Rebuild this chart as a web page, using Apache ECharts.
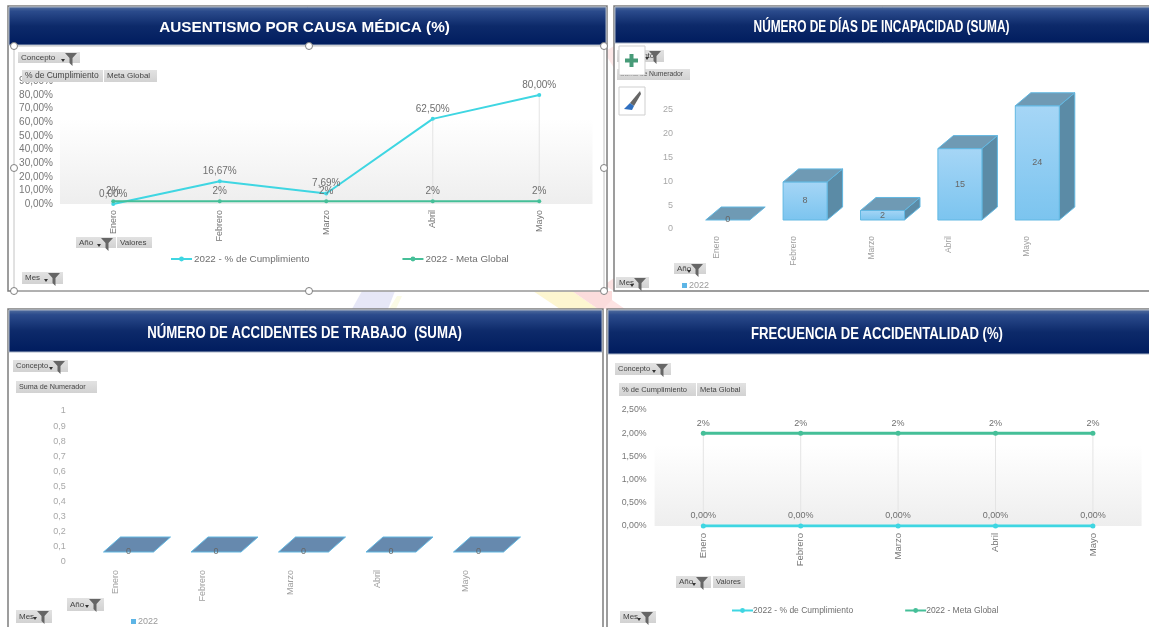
<!DOCTYPE html>
<html><head><meta charset="utf-8">
<style>html,body{margin:0;padding:0;background:#fff}#c{width:1149px;height:627px}</style>
<script src="https://cdn.jsdelivr.net/npm/echarts@6/dist/echarts.min.js"></script>
</head><body><div id="c"></div>
<script>
const months = ['Enero','Febrero','Marzo','Abril','Mayo'];
const ausCumplimiento = [0, 16.67, 7.69, 62.5, 80];
const ausMeta = [2, 2, 2, 2, 2];
const diasIncapacidad = [0, 8, 2, 15, 24];
const accidentes = [0, 0, 0, 0, 0];
const freCumplimiento = [0, 0, 0, 0, 0];
const freMeta = [2, 2, 2, 2, 2];
const titles = ['AUSENTISMO POR CAUSA MÉDICA (%)','NÚMERO DE DÍAS DE INCAPACIDAD (SUMA)','NÚMERO DE ACCIDENTES DE TRABAJO  (SUMA)','FRECUENCIA DE ACCIDENTALIDAD (%)'];
const nameCumpl = '2022 - % de Cumplimiento', nameMeta = '2022 - Meta Global', nameYear = '2022';

const CY = '#3fd6e2', GR = '#45bf98', TXT = '#777', FONT = '"Liberation Sans", Arial, sans-serif';
const LG = (stops) => new echarts.graphic.LinearGradient(0,0,0,1,stops);
const plotBg = () => LG([{offset:0,color:'#fff'},{offset:.3,color:'#fff'},{offset:1,color:'#eeeeee'}]);
const pct2 = v => v.toFixed(2).replace('.',',') + '%';

/* --- decoration: page shapes, panels, headers, pivot buttons --- */
const g = [];
function poly(points, fill){ g.push({type:'polygon', z:-30, shape:{points}, style:{fill}}); }
poly([[352,309],[362,291],[395,291],[388,309]], '#e6e7f7');
poly([[389,309],[397,296],[402,296],[396,309]], '#fbfbe6');
poly([[533,291],[572,291],[598,309],[560,309]], '#fdf6d0');
poly([[572,291],[612,291],[612,309],[598,309]], '#fbdcdc');
poly([[603,309],[612,300],[625,309]], '#fde3e3');
poly([[604,52],[614,46],[614,68]], '#fde9e9');
poly([[604,285],[614,278],[614,291]], '#fde3e3');

function panel(x,y,w,h,hh,title,size,sx,tx){
  g.push({type:'rect', z:-20, shape:{x,y,width:w,height:h}, style:{fill:'#fff',stroke:'#7d7d7d',lineWidth:1.5}});
  g.push({type:'rect', z:-19, shape:{x:x+1,y:y+1,width:w-2,height:hh}, style:{
    fill:LG([{offset:0,color:'#54709f'},{offset:.12,color:'#2b4b8c'},{offset:.5,color:'#0d2a6a'},{offset:1,color:'#001c5e'}]),
    stroke:'#a9b4c6',lineWidth:1}});
  g.push({type:'text', z:-18, x:tx, y:y+3+hh/2, scaleX:sx, style:{x:0,y:0,text:title,fill:'#fff',font:'bold '+size+'px '+FONT,align:'center',verticalAlign:'middle'}});
}
panel(8,6,599,285,38,titles[0],15,1.02,304.5);
panel(614,6,540,285,36,titles[1],16.5,0.72,881.5);
panel(8,309,595,325,42,titles[2],16.5,0.8,304.5);
panel(607,309,550,325,44,titles[3],16.5,0.795,877);

function btn(x0,x1,y0,y1,label,funnel,size){
  g.push({type:'rect', z:20, shape:{x:x0,y:y0,width:x1-x0,height:y1-y0}, style:{fill:LG([{offset:0,color:'#e2e2e2'},{offset:1,color:'#d2d2d2'}])}});
  g.push({type:'text', z:21, style:{x:x0+3,y:(y0+y1)/2,text:label,fill:'#444',font:(size||8)+'px '+FONT,verticalAlign:'middle'}});
  if(funnel){
    const fx=x1-15, fy=y0+1;
    g.push({type:'polygon', z:21, shape:{points:[[fx,fy],[fx+12,fy],[fx+7.5,fy+5],[fx+7.5,fy+13],[fx+4.5,fy+10],[fx+4.5,fy+5]]}, style:{fill:'#666'}});
    g.push({type:'polygon', z:21, shape:{points:[[fx-4,fy+6],[fx,fy+6],[fx-2,fy+9]]}, style:{fill:'#333'}});
  }
}
// panel 1
btn(18,80,52,63,'Concepto',1); btn(22,103,70,82,'% de Cumplimiento',0,8.5); btn(104,157,70,82,'Meta Global');
btn(76,116,237,248,'Año',1); btn(117,152,237,248,'Valores'); btn(22,63,272,284,'Mes',1);
// panel 2
btn(617,664,50,62,'Concepto',1); btn(617,690,69,80,'Suma de Numerador',0,6.8);
btn(674,706,263,274,'Año',1); btn(616,649,277,288,'Mes',1);
// panel 3
btn(13,68,360,372,'Concepto',1,7.5); btn(16,97,381,393,'Suma de Numerador',0,7.2);
btn(67,104,598,611,'Año',1); btn(16,52,610,623,'Mes',1);
// panel 4
btn(615,671,363,375,'Concepto',1,7.5); btn(619,696,383,396,'% de Cumplimiento',0,7.5); btn(697,746,383,396,'Meta Global',0,7.5);
btn(676,711,576,588,'Año',1); btn(713,745,576,588,'Valores',0,7.5); btn(620,656,611,623,'Mes',1);

// selection frame + handles, panel 1
g.push({type:'rect', z:-10, shape:{x:14,y:46,width:590,height:245}, style:{fill:'none',stroke:'#c4c4c4',lineWidth:1}});
[[14,46],[309,46],[604,46],[14,168],[604,168],[14,291],[309,291],[604,291]].forEach(p=>{
  g.push({type:'circle', z:30, shape:{cx:p[0],cy:p[1],r:3.5}, style:{fill:'#fff',stroke:'#808080',lineWidth:1}});
});
// Excel side buttons
g.push({type:'rect', z:30, shape:{x:619,y:46,width:26,height:29}, style:{fill:'#fff',stroke:'#cfcfcf',lineWidth:1}});
g.push({type:'rect', z:31, shape:{x:625,y:58.5,width:13,height:4}, style:{fill:'#479b78'}});
g.push({type:'rect', z:31, shape:{x:629.5,y:54,width:4,height:13}, style:{fill:'#479b78'}});
g.push({type:'rect', z:30, shape:{x:619,y:87,width:26,height:28}, style:{fill:'#fff',stroke:'#cfcfcf',lineWidth:1}});
g.push({type:'polygon', z:31, shape:{points:[[640,91],[641,94],[634,106],[630,103]]}, style:{fill:'#666'}});
g.push({type:'polygon', z:31, shape:{points:[[630,103],[634,106],[632,110],[624,109]]}, style:{fill:'#2f6fc0'}});

/* --- helpers for series --- */
function cat(gridIndex, margin, color, size){
  return {type:'category', gridIndex, data:months, boundaryGap:true,
    axisLine:{show:false}, axisTick:{show:false}, splitLine:{show:false},
    axisLabel:{rotate:90, interval:0, margin, color, fontSize:size, fontFamily:FONT, hideOverlap:false}};
}
function val(gridIndex, min, max, interval, margin, fmt, color, size){
  return {type:'value', gridIndex, min, max, interval,
    axisLine:{show:false}, axisTick:{show:false}, splitLine:{show:false},
    axisLabel:{margin, color, fontSize:size, fontFamily:FONT, formatter:fmt, showMinLabel:true, showMaxLabel:true}};
}
function drop(idx, a, b){ // faint vertical drop line at each month
  return {type:'bar', name:'drop', xAxisIndex:idx, yAxisIndex:idx, barWidth:1, silent:true, z:1,
    itemStyle:{color:'#e4e4e4'}, data:a.map((v,i)=>Math.max(v,b[i]))};
}
function line(idx, name, data, color, width, fmt, size){
  return {type:'line', name, xAxisIndex:idx, yAxisIndex:idx, data, smooth:false, symbol:'circle', symbolSize:width>2?5:4,
    lineStyle:{color,width}, itemStyle:{color}, z:3,
    label:{show:true, position:'top', distance:3, color:'#6f6f6f', fontSize:size, fontFamily:FONT, formatter:p=>fmt(p.value)}};
}
function bar3d(idx, data, o){
  return {type:'custom', name:nameYear, xAxisIndex:idx, yAxisIndex:idx, z:3, clip:false,
    itemStyle:{color:'#5db5e6'},
    data:data.map((v,i)=>[i,v]), encode:{x:0,y:1},
    renderItem(params, api){
      const base = api.coord([api.value(0),0]), top = api.coord([api.value(0),api.value(1)]);
      const x0 = base[0]+o.dx-o.w/2, x1 = x0+o.w, yb = base[1]-o.up, yt = top[1]-o.up;
      const dx=o.ddx, dy=o.ddy, stroke={stroke:'#62b8e2',lineWidth:1};
      const children = [];
      if(yb-yt>0){
        children.push({type:'polygon', shape:{points:[[x1,yb],[x1,yt],[x1+dx,yt-dy],[x1+dx,yb-dy]]}, style:{fill:o.side,...stroke}});
        children.push({type:'rect', shape:{x:x0,y:yt,width:o.w,height:yb-yt}, style:{fill:LG([{offset:0,color:'#a6d6f6'},{offset:1,color:'#7bc4ef'}]),...stroke}});
      }
      children.push({type:'polygon', shape:{points:[[x0,yt],[x1,yt],[x1+dx,yt-dy],[x0+dx,yt-dy]]}, style:{fill:o.top,...stroke}});
      children.push({type:'text', style:{x:(x0+x1)/2,y:(yb+yt)/2,text:String(api.value(1)),fill:'#666',font:'9px '+FONT,align:'center',verticalAlign:'middle'}});
      return {type:'group', children};
    }};
}
function legendLine(left, top, gap, size, pad){
  return {left, top, data:[nameCumpl,nameMeta], itemGap:gap, itemWidth:21, itemHeight:6, padding:0, selectedMode:false,
    textStyle:{color:'#6f6f6f',fontSize:size,fontFamily:FONT,padding:[0,0,0,pad]}};
}
function legendBar(left, top){
  return {left, top, data:[{name:nameYear,icon:'rect'}], itemWidth:5, itemHeight:5, itemGap:0, padding:0, selectedMode:false,
    textStyle:{color:'#9a9a9a',fontSize:9,fontFamily:FONT,padding:[0,0,0,-3]}};
}

const option = {
  animation:false,
  backgroundColor:'#fff',
  graphic:{elements:g},
  grid:[
    {left:60, top:81.4, width:532.5, height:122.6, show:true, borderWidth:0, backgroundColor:plotBg()},
    {left:678, top:110, width:387, height:119},
    {left:71.75, top:411, width:437.5, height:151},
    {left:654.6, top:410, width:487, height:116, show:true, borderWidth:0, backgroundColor:plotBg()}
  ],
  xAxis:[cat(0,6,TXT,9), cat(1,7,'#a0a0a0',8.5), cat(2,8,'#a0a0a0',9), cat(3,7,TXT,9.5)],
  yAxis:[
    val(0,0,90,10,7,v=>pct2(v),'#777',10),
    val(1,0,25,5,5,v=>String(v),'#a8a8a8',9),
    val(2,0,1,0.1,6,v=>String(v).replace('.',','),'#a8a8a8',9),
    val(3,0,2.5,0.5,8,v=>pct2(v),'#777',8.8)
  ],
  legend:[legendLine(170,254,92,9.8,-3), legendBar(682,281), legendBar(131,617), legendLine(731,606,51,8.5,-5)],
  series:[
    drop(0,ausCumplimiento,ausMeta),
    line(0,nameCumpl,ausCumplimiento,CY,2,pct2,10),
    line(0,nameMeta,ausMeta,GR,2,v=>v+'%',10),
    bar3d(1,diasIncapacidad,{dx:11,up:9,w:44,ddx:15.5,ddy:13,top:'#6f9ab4',side:'#5b8ba6'}),
    bar3d(2,accidentes,{dx:13,up:10,w:50,ddx:17,ddy:15,top:'#6689ae',side:'#5b8ba6'}),
    drop(3,freCumplimiento,freMeta),
    line(3,nameCumpl,freCumplimiento,CY,3,pct2,9),
    line(3,nameMeta,freMeta,GR,3,v=>v+'%',9)
  ]
};
echarts.init(document.getElementById('c')).setOption(option);
</script></body></html>
